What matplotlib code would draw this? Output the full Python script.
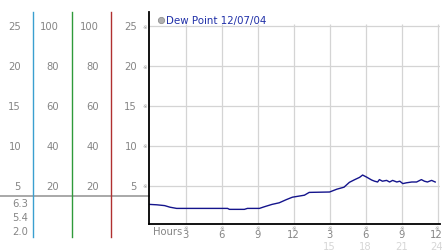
import matplotlib.pyplot as plt

# dew point readings over the day (hours since midnight, degrees)
hours = [0, 0.6, 1.25, 1.7, 2.25, 6.5, 6.65, 7.9, 8.15, 9.15, 9.55, 10.2, 10.8,
         11.4, 11.9, 12.5, 12.9, 13.3, 15.0, 15.6, 16.2, 16.65, 17.1, 17.5, 17.75,
         18.1, 18.5, 18.75, 19.0, 19.15, 19.4, 19.75, 20.0, 20.25, 20.6, 20.85,
         21.1, 21.4, 21.85, 22.25, 22.65, 22.9, 23.15, 23.5, 23.8]
dew_point = [2.7, 2.65, 2.55, 2.35, 2.2, 2.2, 2.08, 2.08, 2.2, 2.2, 2.4, 2.7, 2.9,
             3.3, 3.6, 3.75, 3.85, 4.2, 4.25, 4.6, 4.85, 5.46, 5.8, 6.08, 6.37,
             6.1, 5.75, 5.6, 5.5, 5.8, 5.6, 5.7, 5.5, 5.7, 5.5, 5.6,
             5.3, 5.4, 5.5, 5.5, 5.8, 5.6, 5.5, 5.7, 5.5]

hour_ticks = [3, 6, 9, 12, 15, 18, 21, 24]
hour_labels = ['3', '6', '9', '12', '3', '6', '9', '12']
hour_labels_24 = ['', '', '', '', '15', '18', '21', '24']
dew_ticks = [5, 10, 15, 20, 25]
humidity_ticks = [20, 40, 60, 80, 100]
stats = ['6.3', '5.4', '2.0']   # high, now, low
marker_level = 3.75
legend_label = 'Dew Point 12/07/04'

W, H = 442, 253
fig = plt.figure(figsize=(W / 100, H / 100), dpi=100)

# background panel in pixel coordinates for the side scales
bg = fig.add_axes([0, 0, 1, 1], zorder=0)
bg.set_xlim(0, W)
bg.set_ylim(H, 0)
bg.axis('off')

ax = fig.add_axes([149 / W, 28 / H, 291 / W, 212 / H], zorder=1)
ax.patch.set_alpha(0)
ax.set_xlim(-0.05, 24.2)
ax.set_ylim(0.25, 26.75)
for s in ['top', 'right']:
    ax.spines[s].set_visible(False)
ax.spines['left'].set_linewidth(1.3)
ax.spines['bottom'].set_linewidth(1.3)
ax.set_xticks(hour_ticks)
ax.set_yticks(dew_ticks)
ax.tick_params(length=0, labelbottom=False, labelleft=False)
ax.grid(True, axis='y', color='#d4d4d4', linewidth=0.9)
# vertical grid stops just above the top gridline
ax.vlines(hour_ticks, 0.25, 25.25, color='#d4d4d4', linewidth=0.9, zorder=0.5)
ax.set_axisbelow(True)

ax.plot(hours, dew_point, color='#14148c', linewidth=1.0)

fig.canvas.draw()


def ypix(v):
    return H - ax.transData.transform((0, v))[1]


def xpix(h):
    return ax.transData.transform((h, 0))[0]


grey = '#858585'
fs = 7.2

# side scale columns
for v, hv in zip(dew_ticks, humidity_ticks):
    y = ypix(v)
    bg.text(21, y, str(v), ha='right', va='center', color=grey, fontsize=fs)
    bg.text(59, y, str(hv), ha='right', va='center', color=grey, fontsize=fs)
    bg.text(99, y, str(hv), ha='right', va='center', color=grey, fontsize=fs)
    bg.text(137, y, str(v), ha='right', va='center', color=grey, fontsize=fs)
    bg.text(145, y, '\u203b', ha='center', va='center', color='#999999', fontsize=4)

# level line across the side panel
bg.plot([0, 149], [ypix(marker_level)] * 2, color='#a8a8a8', linewidth=1.4)

# coloured scale dividers
for x, c in [(33.3, '#3a9fd0'), (72.3, '#2f9a3a'), (111.3, '#b03030')]:
    bg.plot([x, x], [12.5, 238], color=c, linewidth=1.0)

# daily stats
for i, s in enumerate(stats):
    bg.text(28, 204 + i * 14, s, ha='right', va='center', color=grey, fontsize=fs)

# hour labels
bg.text(153, 232, 'Hours', ha='left', va='center', color=grey, fontsize=fs)
for h, lab, lab24 in zip(hour_ticks, hour_labels, hour_labels_24):
    x = min(xpix(h), 436.5)
    bg.text(x, 229, '\u203b', ha='center', va='center', color='#999999', fontsize=4)
    bg.text(x, 235, lab, ha='center', va='center', color=grey, fontsize=fs)
    if lab24:
        bg.text(x, 247, lab24, ha='center', va='center', color='#d6d6d6', fontsize=fs)

# legend
bg.plot([160.7], [21], 'o', color='#b0b0b0', markersize=4.5,
        markeredgecolor='#909090', markeredgewidth=0.6)
bg.text(165.5, 21, legend_label, ha='left', va='center', color='#2030a8', fontsize=7.4)

fig.savefig('out.png', dpi=100)
